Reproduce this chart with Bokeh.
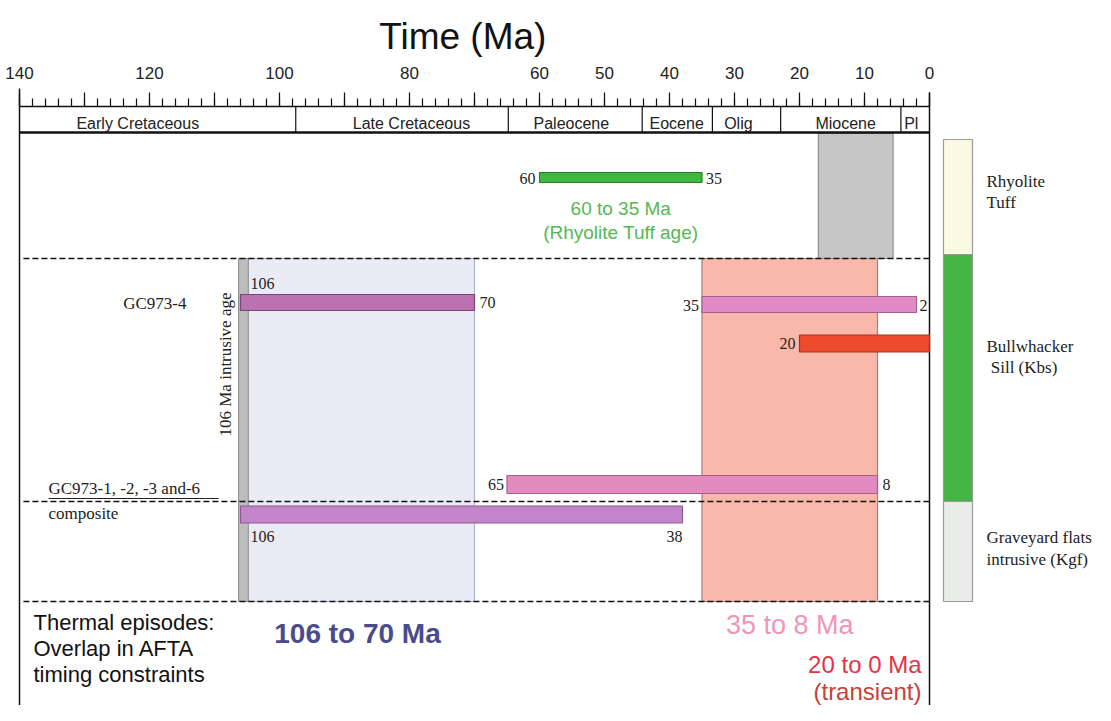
import math
from bokeh.plotting import figure
from bokeh.models import Range1d
from bokeh.core.properties import value
from bokeh.embed import file_html
from bokeh.resources import INLINE

# ---------------- data ----------------
tick_values = [140, 120, 100, 80, 60, 50, 40, 30, 20, 10, 0]
tick_labels = ["140", "120", "100", "80", "60", "50", "40", "30", "20", "10", "0"]
minor_ticks = list(range(0, 141, 2))
mid_ticks = list(range(0, 141, 10))

period_names = ["Early Cretaceous", "Late Cretaceous", "Paleocene", "Eocene", "Olig", "Miocene", "Pl"]
period_old = [140, 97.5, 64.8, 44.2, 33.4, 22.9, 4.4]
period_young = [97.5, 64.8, 44.2, 33.4, 22.9, 4.4, 0]
period_label_ma = [121.8, 79.7, 55.1, 38.9, 29.4, 12.9, 2.8]

# age bars (Ma)
bar_names = ["Rhyolite Tuff", "GC973-4 a", "GC973-4 b", "GC973-4 transient", "GC973-1,-2,-3,-6", "composite"]
bar_start = [60, 106, 35, 20, 65, 106]
bar_end = [35, 70, 2, 0, 8, 38]

# thermal episodes (Ma)
episode_start = [106, 35]
episode_end = [70, 8]
transient_start = 20
transient_end = 0
intrusive_age = 106
grey_band_start = 17.1
grey_band_end = 5.6

legend_units = ["Rhyolite\nTuff", "Bullwhacker\n\u00a0Sill (Kbs)", "Graveyard flats\nintrusive (Kgf)"]

# ---------------- layout / styles ----------------
X0, PXMA = 23.0, 6.5          # layout px of 140 Ma, px per Ma
W, H = 1095, 705
OX, OY = 4, 4                 # layout px shown at the figure's top-left corner
x_left = 140 + (X0 - OX) / PXMA
x_right = 140 - (OX + W - X0) / PXMA

SANS = value("Liberation Sans")
SERIF = value("Liberation Serif")

p = figure(width=W, height=H, x_range=Range1d(x_left, x_right), y_range=Range1d(OY + H, OY),
           toolbar_location=None, output_backend="svg", min_border=0,
           min_border_left=0, min_border_right=0, min_border_top=0, min_border_bottom=0)
p.extra_x_ranges = {"px": Range1d(OX, OX + W)}
p.axis.visible = False
p.xgrid.visible = False
p.ygrid.visible = False
p.outline_line_color = None
p.background_fill_color = "white"
p.border_fill_color = "white"

# title
p.text(x=[(tick_values[0] + tick_values[-1]) / 2 + 1.8], y=[40], text=["Time (Ma)"], text_align="center",
       text_baseline="middle", text_font=SANS, text_font_size="37px", text_color="#111111")

# tick labels
p.text(x=tick_values, y=[76] * len(tick_values), text=tick_labels, text_align="center",
       text_baseline="middle", text_font=SANS, text_font_size="17px", text_color="#222222")

# ruler
p.segment(x0=[tick_values[0]], y0=[110], x1=[tick_values[-1]], y1=[110], line_color="#111111", line_width=1.5)
p.segment(x0=minor_ticks, y0=[110] * len(minor_ticks), x1=minor_ticks, y1=[102] * len(minor_ticks),
          line_color="#111111", line_width=1.2)
p.segment(x0=mid_ticks, y0=[110] * len(mid_ticks), x1=mid_ticks, y1=[96] * len(mid_ticks),
          line_color="#111111", line_width=1.2)

# episode boxes
ep_fill = ["#ebebf7", "#f9b8a9"]
ep_line = ["#b4b4cc", "#b07c78"]
p.quad(left=episode_start, right=episode_end, top=[262, 262], bottom=[605, 605],
       fill_color=ep_fill, line_color=ep_line, line_width=1.2)
# intrusive age strip
p.quad(left=[intrusive_age + 0.3], right=[intrusive_age - 1.2], top=[262], bottom=[605],
       fill_color="#bdbdbd", line_color="#8c8c8c", line_width=1)
# grey band in top section
p.quad(left=[grey_band_start], right=[grey_band_end], top=[137], bottom=[262],
       fill_color="#c6c6c6", line_color="#909090", line_width=1.2)

# period band
p.segment(x0=[140], y0=[136], x1=[0], y1=[136], line_color="#111111", line_width=2.5)
p.segment(x0=period_old[1:], y0=[110] * 6, x1=period_old[1:], y1=[136] * 6, line_color="#111111", line_width=1.2)
p.text(x=period_label_ma, y=[127] * len(period_names), text=period_names, text_align="center",
       text_baseline="middle", text_font=SANS, text_font_size="16px", text_color="#222222")

# frame borders
p.segment(x0=[140], y0=[92], x1=[140], y1=[OY + H], line_color="#111111", line_width=1.5)
p.segment(x0=[0], y0=[96], x1=[0], y1=[OY + H], line_color="#111111", line_width=1.5)

# dashed separators
for yy in [262, 505, 605]:
    p.segment(x0=[139.4], y0=[yy], x1=[0], y1=[yy], line_color="#111111", line_width=1.5, line_dash="6 3")

# age bars
bar_y = [181, 306, 308, 347, 488, 518]
bar_h = [10, 16, 16, 17, 18, 17]
bar_fill = ["#40b840", "#bb72b1", "#e08ac6", "#ee4a2e", "#e38abf", "#c484c9"]
bar_line = ["#2b7a2b", "#7a4676", "#a0628f", "#a83220", "#a0628f", "#8a5a90"]
p.hbar(y=bar_y, left=bar_start, right=bar_end, height=bar_h, fill_color=bar_fill,
       line_color=bar_line, line_width=1.2)

# bar value labels
num_style = dict(text_baseline="middle", text_font=SERIF, text_font_size="16px", text_color="#222222")
p.text(x=[bar_start[0], bar_start[2], bar_start[3], bar_start[4], bar_end[5]],
       y=[182, 309, 347, 488, 540],
       text=[str(bar_start[0]), str(bar_start[2]), str(bar_start[3]), str(bar_start[4]), str(bar_end[5])],
       x_offset=[-4, -3, -4, -3, 0], text_align="right", **num_style)
p.text(x=[bar_end[0], bar_end[1], bar_end[2], bar_end[4]],
       y=[182, 306, 309, 488],
       text=[str(bar_end[0]), str(bar_end[1]), str(bar_end[2]), str(bar_end[4])],
       x_offset=[4, 5, 3, 5], text_align="left", **num_style)
p.text(x=[bar_start[1], bar_start[5]], y=[287, 540], text=[str(bar_start[1]), str(bar_start[5])],
       x_offset=[10, 10], text_align="left", **num_style)

# green text
p.text(x=[(bar_start[0] + bar_end[0]) / 2] * 2, y=[212, 236],
       text=[f"{bar_start[0]} to {bar_end[0]} Ma", "(Rhyolite Tuff age)"],
       text_align="center", text_baseline="middle", text_font=SANS, text_font_size="19px",
       text_color="#55b855")

# sample labels (layout px range)
ser17 = dict(text_baseline="middle", text_font=SERIF, text_font_size="17px", text_color="#222222")
p.text(x=[190], y=[307], text=["GC973-4"], text_align="right", x_range_name="px", **ser17)
p.text(x=[52, 52], y=[492, 517], text=["GC973-1, -2, -3 and-6", "composite"], text_align="left",
       x_range_name="px", **ser17)
p.segment(x0=[52], y0=[502], x1=[222], y1=[502], x_range_name="px", line_color="#222222", line_width=1)
p.text(x=[229], y=[368], text=[f"{intrusive_age} Ma intrusive age"], angle=math.pi / 2, text_align="center",
       x_range_name="px", **ser17)

# thermal episodes text
p.text(x=[37] * 3, y=[626, 652, 678], text=["Thermal episodes:", "Overlap in AFTA", "timing constraints"],
       text_align="left", text_baseline="middle", text_font=SANS, text_font_size="22px",
       text_color="#111111", x_range_name="px")
p.text(x=[(episode_start[0] + episode_end[0]) / 2], y=[637], text=[f"{episode_start[0]} to {episode_end[0]} Ma"],
       text_align="center", text_baseline="middle", text_font=SANS, text_font_size="28px",
       text_font_style="bold", text_color="#4a4a8c")
p.text(x=[(episode_start[1] + episode_end[1]) / 2], y=[628], text=[f"{episode_start[1]} to {episode_end[1]} Ma"],
       text_align="center", text_baseline="middle", text_font=SANS, text_font_size="27px",
       text_color="#f095b8")
p.text(x=[transient_end, transient_end], y=[668, 695], text=[f"{transient_start} to {transient_end} Ma", "(transient)"],
       x_offset=[-8, -8], text_align="right", text_baseline="middle", text_font=SANS, text_font_size="24px",
       text_color=["#e63248", "#c84038"])

# right legend column
p.quad(left=[947] * 3, right=[976] * 3, top=[143, 258, 505], bottom=[258, 505, 605],
       fill_color=["#fafae2", "#44b544", "#e9ece9"], line_color="#9a9a9a", line_width=1.2, x_range_name="px")
leg_y = [[185, 206], [350, 371], [541, 563]]
for lab, ys in zip(legend_units, leg_y):
    p.text(x=[990, 990], y=ys, text=lab.split("\n"), text_align="left", x_range_name="px", **ser17)

open("out.html", "w").write(file_html(p, INLINE))
